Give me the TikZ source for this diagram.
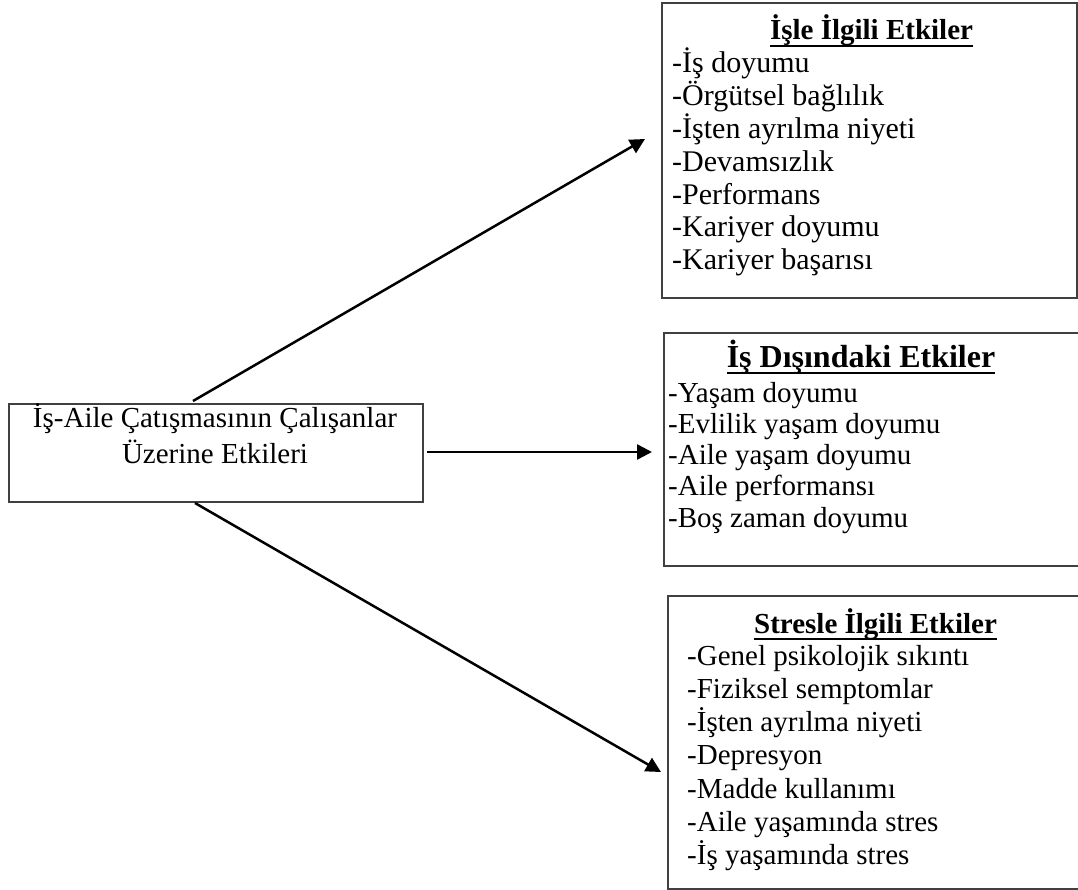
\documentclass[tikz,border=0pt]{standalone}
\usepackage{fontspec}
\setmainfont{Liberation Serif}
\usetikzlibrary{arrows.meta}
\definecolor{framegrey}{gray}{0.25}
\begin{document}
\begin{tikzpicture}[x=1pt,y=-1pt,
  frame/.style={draw=framegrey, line width=2pt, inner sep=0pt, anchor=north west},
  ttl/.style={font=\fontsize{29}{33}\selectfont\bfseries, inner sep=0pt, anchor=base},
  item/.style={font=\fontsize{29}{33}\selectfont, inner sep=0pt, anchor=base west},
  mtext/.style={font=\fontsize{29}{36}\selectfont, inner sep=0pt, anchor=base},
  uline/.style={line width=2pt},
  arr/.style={line width=2.5pt, -{Triangle[length=15pt,width=15pt]}}]

% page
\fill[white] (0,0) rectangle (1078,890);
\useasboundingbox (0,0) rectangle (1078,890);

% central box
\node[frame, minimum width=414pt, minimum height=98pt] (main) at (8,403) {};
\node[mtext] (m1) at (215,427) {İş-Aile Çatışmasının Çalışanlar};
\node[mtext] (m2) at (215,463) {Üzerine Etkileri};

% work-related effects
\node[frame, minimum width=415pt, minimum height=295pt] (work) at (661,2) {};
\node[ttl] (t1) at (871.5,40) {İşle İlgili Etkiler};
\draw[uline] ([yshift=-6pt]t1.base west) -- ([yshift=-6pt]t1.base east);
\foreach \t [count=\i from 0] in {-İş doyumu, -Örgütsel bağlılık, -İşten ayrılma niyeti,
    -Devamsızlık, -Performans, -Kariyer doyumu, -Kariyer başarısı}
  \node[item, font=\fontsize{30}{33}\selectfont] (w\i) at (672,{73+32.8*\i}) {\t};

% non-work effects
\node[frame, minimum width=419pt, minimum height=233pt] (nonwork) at (663,332) {};
\node[ttl, font=\fontsize{32}{33}\selectfont\bfseries] (t2) at (861,367) {İş Dışındaki Etkiler};
\draw[uline] ([yshift=-6pt]t2.base west) -- ([yshift=-6pt]t2.base east);
\foreach \t [count=\i from 0] in {-Yaşam doyumu, -Evlilik yaşam doyumu, -Aile yaşam doyumu,
    -Aile performansı, -Boş zaman doyumu}
  \node[item] (n\i) at (668,{402+31.25*\i}) {\t};

% stress-related effects
\node[frame, minimum width=415pt, minimum height=293pt] (stress) at (667,595) {};
\node[ttl] (t3) at (875.5,633) {Stresle İlgili Etkiler};
\draw[uline] ([yshift=-6pt]t3.base west) -- ([yshift=-6pt]t3.base east);
\foreach \t [count=\i from 0] in {-Genel psikolojik sıkıntı, -Fiziksel semptomlar,
    -İşten ayrılma niyeti, -Depresyon, -Madde kullanımı, -Aile yaşamında stres,
    -İş yaşamında stres}
  \node[item] (s\i) at (687,{665+33.3*\i}) {\t};

% connectors
\coordinate (a1) at (193,401);
\coordinate (b1) at (645,139);
\coordinate (a2) at (427,452);
\coordinate (b2) at (652,452);
\coordinate (a3) at (195,503);
\coordinate (b3) at (661,772);
\draw[arr] (a1) -- (b1);
\draw[arr] (a2) -- (b2);
\draw[arr] (a3) -- (b3);
\end{tikzpicture}
\end{document}
